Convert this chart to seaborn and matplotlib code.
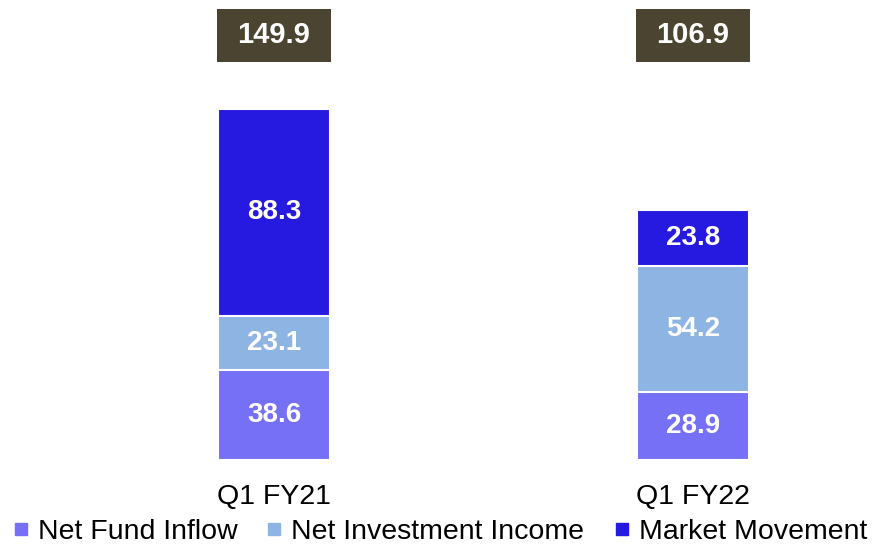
import matplotlib
matplotlib.use("Agg")
import matplotlib.pyplot as plt
from matplotlib.patches import Rectangle
from matplotlib.lines import Line2D
import seaborn as sns
import pandas as pd
import numpy as np

categories = ["Q1 FY21", "Q1 FY22"]
series_names = ["Net Fund Inflow", "Net Investment Income", "Market Movement"]
net_fund_inflow = [38.6, 28.9]
net_investment_income = [23.1, 54.2]
market_movement = [88.3, 23.8]
totals = [149.9, 106.9]

colors = ["#7570F5", "#8EB4E3", "#2619E0"]
box_color = "#4B4430"

sns.set_style("white")
plt.rcParams["font.family"] = ["Liberation Sans", "DejaVu Sans"]
plt.rcParams["text.color"] = "black"

fig = plt.figure(figsize=(8.79, 5.52), dpi=100)
ax = fig.add_axes([0, 92 / 552, 1, 460 / 552])

series = [net_fund_inflow, net_investment_income, market_movement]
cum = np.cumsum(np.array(series), axis=0)
bar_w = 0.267

# draw cumulative tops from largest to smallest so the stack appears
for k in range(len(series) - 1, -1, -1):
    df = pd.DataFrame({"cat": categories, "val": cum[k]})
    sns.barplot(data=df, x="cat", y="val", color=colors[k], width=bar_w,
                edgecolor="white", linewidth=1.5, saturation=1, ax=ax)

# segment labels
for k in range(len(series)):
    for i, v in enumerate(series[k]):
        bottom = cum[k][i] - v
        ax.text(i, bottom + v / 2, f"{v:.1f}", ha="center", va="center",
                color="white", fontsize=20, fontweight="bold")

# totals boxes
box_center = 181.5
box_h = 22.6
box_w = 0.272
for i, t in enumerate(totals):
    ax.add_patch(Rectangle((i - box_w / 2, box_center - box_h / 2), box_w, box_h,
                           facecolor=box_color, edgecolor="none", zorder=3))
    ax.text(i, box_center, f"{t:.1f}", ha="center", va="center", color="white",
            fontsize=21, fontweight="bold", zorder=4)

ax.set_xlim(-274 / 419, (879 - 274) / 419)
ax.set_ylim(0, 460 / 2.34)
ax.set_xlabel("")
ax.set_ylabel("")
ax.set_yticks([])
ax.tick_params(axis="x", length=0, pad=17, labelsize=20.5, labelcolor="black")
for s in ax.spines.values():
    s.set_visible(False)

handles = [Line2D([0], [0], marker="s", linestyle="none", markersize=8,
                  markerfacecolor=c, markeredgecolor=c) for c in colors]
leg = fig.legend(handles, series_names, loc="lower center", bbox_to_anchor=(0.5, -0.008),
                 ncol=3, frameon=False, fontsize=20.5, handlelength=0.6,
                 handletextpad=0.3, columnspacing=1.0, borderaxespad=0)
for txt in leg.get_texts():
    txt.set_color("black")

fig.savefig("out.png", dpi=100)
